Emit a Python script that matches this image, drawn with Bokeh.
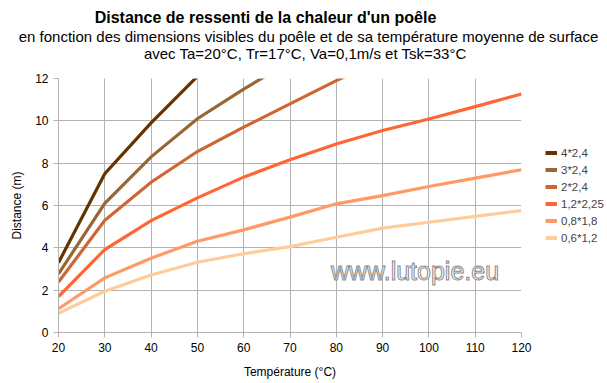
from bokeh.plotting import figure
from bokeh.models import (Range1d, FixedTicker, Legend, LegendItem, Label)
from bokeh.layouts import row, column
from bokeh.embed import file_html
from bokeh.resources import INLINE

temps = [20, 30, 40, 50, 60, 70, 80, 90, 100, 110, 120]
series_names = ["4*2,4", "3*2,4", "2*2,4", "1,2*2,25", "0,8*1,8", "0,6*1,2"]
s_4_24 = [3.3, 7.5, 9.9, 12.1]
s_3_24 = [2.77, 6.1, 8.3, 10.1, 11.5, 12.8]
s_2_24 = [2.38, 5.3, 7.1, 8.55, 9.7, 10.8, 11.9, 12.9]
s_12_225 = [1.7, 3.92, 5.29, 6.36, 7.34, 8.16, 8.91, 9.54, 10.09, 10.67, 11.27]
s_08_18 = [1.12, 2.58, 3.51, 4.31, 4.85, 5.45, 6.08, 6.47, 6.90, 7.29, 7.69]
s_06_12 = [0.91, 1.95, 2.72, 3.32, 3.72, 4.06, 4.50, 4.93, 5.21, 5.49, 5.76]
colors = ["#663300", "#996633", "#cc6633", "#ff6633", "#ff9966", "#ffcc99"]
x_ticks = [20, 30, 40, 50, 60, 70, 80, 90, 100, 110, 120]
y_ticks = [0, 2, 4, 6, 8, 10, 12]
title_main = "Distance de ressenti de la chaleur d'un poêle"
title_sub1 = "en fonction des dimensions visibles du poêle et de sa température moyenne de surface"
title_sub2 = "avec Ta=20°C, Tr=17°C, Va=0,1m/s et Tsk=33°C"

FONT = "Liberation Sans"
W, H = 606, 382
TH = 70          # title band height
PW = 533         # chart width
PH = H - TH
BOTTOM = PH - 8 - 254

# ---- title band ----
tf = figure(width=W, height=TH, output_backend="svg", toolbar_location=None,
            x_range=Range1d(0, W), y_range=Range1d(0, TH), min_border=0,
            x_axis_location=None, y_axis_location=None, outline_line_color=None)
tf.grid.visible = False
tf.add_layout(Label(x=265, y=TH - 17, text=title_main, text_align="center",
                    text_baseline="middle", text_font=FONT, text_font_size="16px",
                    text_font_style="bold", text_color="black"))
tf.add_layout(Label(x=308, y=TH - 36, text=title_sub1, text_align="center",
                    text_baseline="middle", text_font=FONT, text_font_size="15px",
                    text_color="black"))
tf.add_layout(Label(x=305, y=TH - 53, text=title_sub2, text_align="center",
                    text_baseline="middle", text_font=FONT, text_font_size="15px",
                    text_color="black"))

# ---- chart ----
p = figure(width=PW, height=PH, output_backend="svg", toolbar_location=None,
           x_range=Range1d(20, 120), y_range=Range1d(0, 12),
           min_border_left=58, min_border_right=12, min_border_top=8,
           min_border_bottom=BOTTOM)
p.outline_line_color = None
p.background_fill_color = "white"

datasets = [s_4_24, s_3_24, s_2_24, s_12_225, s_08_18, s_06_12]
for vals, col in zip(datasets, colors):
    p.line(temps[:len(vals)], vals, line_color=col, line_width=3.2, line_join="miter")

for ax, tk in ((p.xaxis, x_ticks), (p.yaxis, y_ticks)):
    ax.ticker = FixedTicker(ticks=tk)
    ax.axis_line_color = "#b3b3b3"
    ax.major_tick_line_color = "#b3b3b3"
    ax.major_tick_out = 5
    ax.major_tick_in = 0
    ax.minor_tick_line_color = None
    ax.major_label_text_font = FONT
    ax.major_label_text_font_size = "12px"
    ax.major_label_text_color = "black"
    ax.axis_label_text_font = FONT
    ax.axis_label_text_font_size = "12px"
    ax.axis_label_text_font_style = "normal"
    ax.axis_label_text_color = "black"

p.xaxis.axis_label = "Température (°C)"
p.yaxis.axis_label = "Distance (m)"
p.xaxis.major_label_standoff = 5
p.yaxis.major_label_standoff = 5
p.xaxis.axis_label_standoff = 10
p.yaxis.axis_label_standoff = 8

p.xgrid.grid_line_color = "#b3b3b3"
p.ygrid.grid_line_color = "#b3b3b3"

p.add_layout(Label(x=97, y=2.9, text="www.lutopie.eu", text_align="center",
                   text_baseline="middle", text_font=FONT, text_font_size="25px",
                   text_color="white", text_outline_color="#8a8a8a"))

# ---- legend band (its frame is aligned with the chart frame) ----
lg = figure(width=W - PW, height=PH, output_backend="svg", toolbar_location=None,
            x_range=Range1d(1000, 1001), y_range=Range1d(1000, 1001), min_border=0,
            x_axis_location=None, y_axis_location=None, outline_line_color=None)
lg.grid.visible = False
items = []
for name, vals, col in zip(series_names, datasets, colors):
    r = lg.line(temps[:len(vals)], vals, line_color=col, line_width=4)
    items.append(LegendItem(label=name, renderers=[r]))
legend = Legend(items=items, location=(12, 86), margin=0, padding=0,
                glyph_width=12, glyph_height=17, label_height=17, spacing=0,
                label_standoff=4, label_text_font=FONT, label_text_font_size="11.5px",
                border_line_color=None, background_fill_alpha=0)
lg.add_layout(legend)

layout = column(tf, row(p, lg))
open("out.html", "w").write(file_html(layout, INLINE))
